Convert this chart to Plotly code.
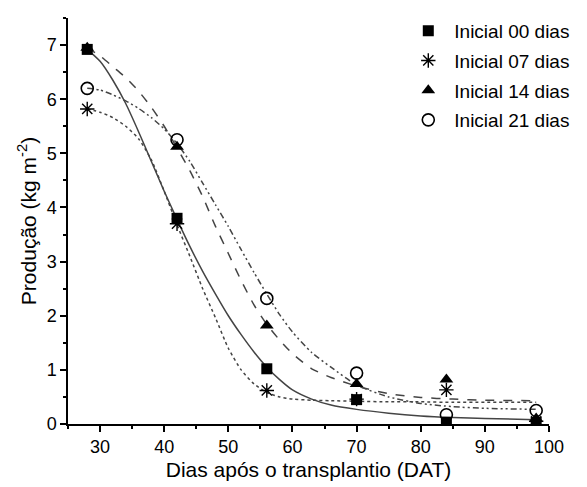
import plotly.graph_objects as go

# Observed data
dias = [28, 42, 56, 70, 84, 98]
ini00 = [6.92, 3.80, 1.02, 0.45, 0.03, 0.03]
ini07 = [5.82, 3.70, 0.62, 0.46, 0.63, 0.05]
ini14 = [6.95, 5.12, 1.82, 0.74, 0.82, 0.10]
ini21 = [6.20, 5.25, 2.32, 0.94, 0.17, 0.25]

# Fitted curves
x_fit = [28, 30, 32, 34, 36, 38, 40, 42, 44, 46, 48, 50, 52, 54, 56, 58, 60, 63, 66, 70, 75, 80, 85, 90, 98]
fit00 = [6.92, 6.70, 6.35, 5.92, 5.40, 4.85, 4.30, 3.78, 3.28, 2.82, 2.40, 2.00, 1.65, 1.33, 1.05, 0.82, 0.63, 0.46, 0.35, 0.27, 0.20, 0.15, 0.12, 0.10, 0.08]
fit07 = [5.82, 5.76, 5.66, 5.50, 5.27, 4.88, 4.30, 3.68, 3.10, 2.50, 1.96, 1.40, 1.00, 0.74, 0.58, 0.50, 0.46, 0.44, 0.43, 0.42, 0.41, 0.41, 0.40, 0.40, 0.40]
fit14 = [6.95, 6.80, 6.60, 6.40, 6.15, 5.85, 5.50, 5.10, 4.68, 4.20, 3.65, 3.15, 2.65, 2.20, 1.84, 1.55, 1.30, 1.02, 0.86, 0.70, 0.56, 0.49, 0.46, 0.44, 0.43]
fit21 = [6.20, 6.17, 6.08, 5.97, 5.83, 5.66, 5.45, 5.18, 4.85, 4.45, 4.05, 3.65, 3.22, 2.80, 2.40, 2.02, 1.70, 1.32, 1.05, 0.72, 0.50, 0.38, 0.32, 0.29, 0.27]

labels = ["Inicial 00 dias", "Inicial 07 dias", "Inicial 14 dias", "Inicial 21 dias"]

FONT = "Liberation Sans, Arial, sans-serif"
LINE = "#444444"
fig = go.Figure()

fits = [(fit00, "solid"), (fit07, "dot"), (fit14, "dash"), (fit21, "6px,3px,2px,3px,2px,3px")]
for ys, dash in fits:
    fig.add_trace(go.Scatter(x=x_fit, y=ys, mode="lines",
                             line=dict(color=LINE, width=1.5, dash=dash, shape="spline", smoothing=0.6),
                             showlegend=False, hoverinfo="skip"))

markers = [
    (ini00, dict(symbol="square", size=11, color="black")),
    (ini07, dict(symbol="asterisk-open", size=12, color="black", line=dict(color="black", width=1.4))),
    (ini14, dict(symbol="triangle-up", size=12, color="black")),
    (ini21, dict(symbol="circle-open", size=12, color="black", line=dict(color="black", width=1.6))),
]
for i, (ys, mk) in enumerate(markers):
    fig.add_trace(go.Scatter(x=dias, y=ys, mode="markers", marker=mk, name=labels[i], legendgroup=f"g{i}"))

axis_common = dict(
    showline=True, linecolor="black", linewidth=1.5, ticks="outside", ticklen=6, tickwidth=1.5,
    tickcolor="black", showgrid=False, zeroline=False, mirror=False, automargin=False,
    tickfont=dict(family=FONT, size=18, color="black"),
    title_font=dict(family=FONT, size=21, color="black"),
)

fig.update_layout(
    width=587, height=487,
    margin=dict(l=68, r=17, t=16, b=63),
    paper_bgcolor="white", plot_bgcolor="white",
    font=dict(family=FONT, color="black"),
    xaxis=dict(range=[25, 100], tickmode="array", tickvals=[30, 40, 50, 60, 70, 80, 90, 100],
               minor=dict(tickvals=[25, 35, 45, 55, 65, 75, 85, 95], ticklen=3, tickwidth=1.5, tickcolor="black", ticks="outside"),
               title=dict(text="Dias após o transplantio (DAT)", standoff=6), **axis_common),
    yaxis=dict(range=[0, 7.5], tickmode="array", tickvals=[0, 1, 2, 3, 4, 5, 6, 7],
               minor=dict(tickvals=[0.5, 1.5, 2.5, 3.5, 4.5, 5.5, 6.5, 7.5], ticklen=3, tickwidth=1.5, tickcolor="black", ticks="outside"),
               title=dict(text="Produção (kg m<sup>-2</sup>)", standoff=4), **axis_common),
    legend=dict(x=0.695, y=1.015, xanchor="left", yanchor="top", bgcolor="rgba(0,0,0,0)",
                font=dict(family=FONT, size=19, color="black"),
                itemwidth=42, tracegroupgap=2),
)

fig.write_html("out.html", config={"displayModeBar": False},
               post_script="document.body.style.margin='0';")
